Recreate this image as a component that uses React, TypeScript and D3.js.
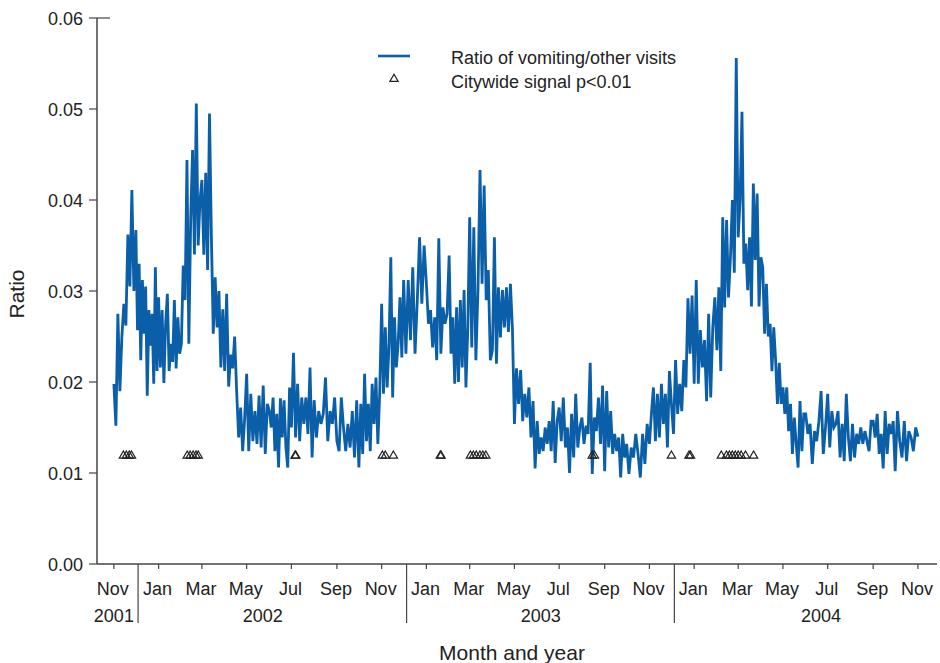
import { useEffect, useRef } from 'react';
import * as d3 from 'd3';

// Ratio of vomiting / other ED visits, every 3 days.
// One row per calendar month; the points of a row are spread evenly over that month.
const ratio2001 = [
  [0.0198, 0.0152, 0.0275, 0.0190, 0.0250, 0.0286, 0.0262, 0.0362, 0.0305, 0.0411, 0.0300], // Nov
  [0.0367, 0.0257, 0.0330, 0.0224, 0.0312, 0.0253, 0.0305, 0.0185, 0.0279, 0.0240, 0.0275, 0.0198, 0.0326, 0.0212], // Dec
];

const ratio2002 = [
  [0.0293, 0.0216, 0.0279, 0.0199, 0.0264, 0.0297, 0.0212, 0.0242, 0.0222, 0.0290, 0.0215, 0.0271, 0.0231], // Jan
  [0.0242, 0.0328, 0.0290, 0.0444, 0.0242, 0.0380, 0.0455, 0.0340, 0.0506, 0.0350, 0.0400], // Feb
  [0.0422, 0.0340, 0.0430, 0.0323, 0.0495, 0.0360, 0.0253, 0.0315, 0.0260, 0.0300, 0.0216, 0.0280], // Mar
  [0.0212, 0.0297, 0.0195, 0.0230, 0.0215, 0.0250, 0.0190, 0.0139, 0.0172, 0.0124, 0.0160], // Apr
  [0.0209, 0.0124, 0.0187, 0.0135, 0.0168, 0.0132, 0.0185, 0.0128, 0.0196, 0.0121, 0.0176], // May
  [0.0168, 0.0150, 0.0183, 0.0124, 0.0165, 0.0106, 0.0182, 0.0139, 0.0180, 0.0128, 0.0106, 0.0194], // Jun
  [0.0150, 0.0232, 0.0139, 0.0198, 0.0135, 0.0183, 0.0154, 0.0183, 0.0143, 0.0216, 0.0117], // Jul
  [0.0180, 0.0139, 0.0168, 0.0154, 0.0165, 0.0205, 0.0135, 0.0168, 0.0154, 0.0183], // Aug
  [0.0135, 0.0124, 0.0183, 0.0150, 0.0124, 0.0154, 0.0128, 0.0168, 0.0117, 0.0180], // Sep
  [0.0106, 0.0176, 0.0121, 0.0209, 0.0135, 0.0176, 0.0124, 0.0198, 0.0154, 0.0205, 0.0132, 0.0190], // Oct
  [0.0286, 0.0187, 0.0260, 0.0194, 0.0240, 0.0337, 0.0183, 0.0271, 0.0216, 0.0242, 0.0293, 0.0227], // Nov
  [0.0312, 0.0231, 0.0312, 0.0246, 0.0326, 0.0231, 0.0290, 0.0359, 0.0286, 0.0350], // Dec
];

const ratio2003 = [
  [0.0308, 0.0264, 0.0279, 0.0238, 0.0271, 0.0224, 0.0358, 0.0231, 0.0282, 0.0264, 0.0275], // Jan
  [0.0339, 0.0231, 0.0271, 0.0198, 0.0282, 0.0200, 0.0290, 0.0216, 0.0301, 0.0194, 0.0260], // Feb
  [0.0381, 0.0238, 0.0370, 0.0224, 0.0300, 0.0433, 0.0308, 0.0416, 0.0290, 0.0323, 0.0224], // Mar
  [0.0235, 0.0359, 0.0220, 0.0304, 0.0249, 0.0301, 0.0260, 0.0304, 0.0255, 0.0308, 0.0258], // Apr
  [0.0154, 0.0215, 0.0176, 0.0213, 0.0157, 0.0187, 0.0161, 0.0194, 0.0139, 0.0179, 0.0105], // May
  [0.0157, 0.0121, 0.0139, 0.0124, 0.0150, 0.0132, 0.0157, 0.0124, 0.0179, 0.0111, 0.0157], // Jun
  [0.0172, 0.0135, 0.0183, 0.0128, 0.0150, 0.0100, 0.0165, 0.0117, 0.0187, 0.0128, 0.0150], // Jul
  [0.0161, 0.0132, 0.0152, 0.0143, 0.0221, 0.0099, 0.0161, 0.0146, 0.0183, 0.0132, 0.0196], // Aug
  [0.0102, 0.0190, 0.0128, 0.0168, 0.0121, 0.0143, 0.0124, 0.0139, 0.0095, 0.0143, 0.0117], // Sep
  [0.0132, 0.0099, 0.0128, 0.0117, 0.0143, 0.0121, 0.0095, 0.0143, 0.0110, 0.0154], // Oct
  [0.0132, 0.0165, 0.0194, 0.0135, 0.0187, 0.0139, 0.0198, 0.0154, 0.0187, 0.0128, 0.0212], // Nov
  [0.0176, 0.0143, 0.0224, 0.0165, 0.0198, 0.0168, 0.0224, 0.0194, 0.0292, 0.0231, 0.0295], // Dec
];

const ratio2004 = [
  [0.0198, 0.0312, 0.0198, 0.0257, 0.0216, 0.0246, 0.0179, 0.0275, 0.0183, 0.0260, 0.0293], // Jan
  [0.0235, 0.0304, 0.0212, 0.0381, 0.0282, 0.0378, 0.0293, 0.0337, 0.0400, 0.0320, 0.0556], // Feb
  [0.0359, 0.0400, 0.0497, 0.0330, 0.0352, 0.0301, 0.0359, 0.0283, 0.0418, 0.0334, 0.0407, 0.0283], // Mar
  [0.0337, 0.0326, 0.0253, 0.0308, 0.0250, 0.0264, 0.0212, 0.0260, 0.0224, 0.0176, 0.0221, 0.0176], // Apr
  [0.0194, 0.0165, 0.0194, 0.0146, 0.0176, 0.0121, 0.0161, 0.0132, 0.0106, 0.0179, 0.0124, 0.0165], // May
  [0.0165, 0.0143, 0.0154, 0.0110, 0.0146, 0.0135, 0.0157, 0.0190, 0.0121, 0.0150], // Jun
  [0.0187, 0.0128, 0.0168, 0.0150, 0.0154, 0.0168, 0.0117, 0.0154, 0.0113, 0.0187, 0.0139], // Jul
  [0.0113, 0.0154, 0.0117, 0.0143, 0.0132, 0.0150, 0.0132, 0.0146, 0.0135, 0.0124, 0.0157], // Aug
  [0.0157, 0.0139, 0.0165, 0.0121, 0.0143, 0.0105, 0.0168, 0.0121, 0.0154, 0.0143, 0.0157], // Sep
  [0.0102, 0.0168, 0.0135, 0.0117, 0.0157, 0.0113, 0.0146, 0.0139, 0.0124, 0.0150], // Oct
];
const ratioLast = 0.0140; // Nov 1 2004

// Days with a citywide signal (p<0.01)
const signalDates = [
  '2001-11-14', '2001-11-18', '2001-11-22', '2001-11-25',
  '2002-02-09', '2002-02-13', '2002-02-17', '2002-02-21', '2002-02-24',
  '2002-07-06', '2002-07-07',
  '2002-11-02', '2002-11-06', '2002-11-17',
  '2003-01-20', '2003-01-21',
  '2003-03-02', '2003-03-06', '2003-03-10', '2003-03-15', '2003-03-19', '2003-03-23',
  '2003-08-15', '2003-08-18',
  '2003-12-01', '2003-12-25', '2003-12-27',
  '2004-02-07', '2004-02-14', '2004-02-18', '2004-02-22', '2004-02-26',
  '2004-03-01', '2004-03-05', '2004-03-11', '2004-03-22',
];
const signalLevel = 0.012;

const monthTicks = [
  '2001-11-01', '2002-01-01', '2002-03-01', '2002-05-01', '2002-07-01', '2002-09-01', '2002-11-01',
  '2003-01-01', '2003-03-01', '2003-05-01', '2003-07-01', '2003-09-01', '2003-11-01',
  '2004-01-01', '2004-03-01', '2004-05-01', '2004-07-01', '2004-09-01', '2004-11-01',
];
const yearLabels = ['2001', '2002', '2003', '2004'];
const yearLabelDates = ['2001-11-01', '2002-05-23', '2003-06-06', '2004-06-22'];
const yearBreaks = ['2001-12-04', '2002-12-05', '2003-12-05'];
const yTicks = [0, 0.01, 0.02, 0.03, 0.04, 0.05, 0.06];

const FONT = '"Liberation Sans", Arial, Helvetica, sans-serif';
const BLUE = '#0a5fa8';
const INK = '#222';

export default function App() {
  const svgRef = useRef<SVGSVGElement | null>(null);

  useEffect(() => {
    if (!svgRef.current) return;
    const svg = d3.select(svgRef.current);
    svg.selectAll('*').remove();

    const parse = d3.timeParse('%Y-%m-%d');

    // Flatten the monthly rows into dated points
    type Point = { date: Date; value: number };
    const points: Point[] = [];
    const seasons: [number, number, number[][]][] = [
      [2001, 10, ratio2001],
      [2002, 0, ratio2002],
      [2003, 0, ratio2003],
      [2004, 0, ratio2004],
    ];
    seasons.forEach(([year, firstMonth, rows]) => {
      rows.forEach((row, k) => {
        const start = new Date(year, firstMonth + k, 1).getTime();
        const end = new Date(year, firstMonth + k + 1, 1).getTime();
        const step = (end - start) / row.length;
        row.forEach((v, i) => points.push({ date: new Date(start + i * step), value: v }));
      });
    });
    points.push({ date: new Date(2004, 10, 1), value: ratioLast });

    const left = 97;
    const right = 937;
    const top = 18;
    const bottom = 564;

    const x = d3.scaleTime()
      .domain([new Date(2001, 9, 9), new Date(2004, 10, 27)])
      .range([left, right]);
    const y = d3.scaleLinear().domain([0, 0.06]).range([bottom, top]);

    // Y axis
    const yAxis = svg.append('g');
    yAxis.append('line')
      .attr('x1', left).attr('x2', left)
      .attr('y1', top).attr('y2', bottom)
      .attr('stroke', '#444').attr('stroke-width', 1.5);
    yAxis.selectAll('.ytick')
      .data(yTicks)
      .enter()
      .append('line')
      .attr('x1', left - 8).attr('x2', left)
      .attr('y1', d => y(d)).attr('y2', d => y(d))
      .attr('stroke', '#444').attr('stroke-width', 1.2);
    yAxis.append('line')
      .attr('x1', left).attr('x2', left + 13)
      .attr('y1', y(0.06)).attr('y2', y(0.06))
      .attr('stroke', '#444').attr('stroke-width', 1.2);
    yAxis.selectAll('.ylabel')
      .data(yTicks)
      .enter()
      .append('text')
      .attr('x', 83)
      .attr('y', d => y(d) + 6.5)
      .attr('text-anchor', 'end')
      .attr('font-family', FONT)
      .attr('font-size', 18)
      .attr('fill', INK)
      .text(d => d.toFixed(2));

    // X axis
    const xAxis = svg.append('g');
    xAxis.append('line')
      .attr('x1', left).attr('x2', right)
      .attr('y1', bottom).attr('y2', bottom)
      .attr('stroke', '#444').attr('stroke-width', 1.5);
    const tickDates = monthTicks.map(d => parse(d) as Date);
    xAxis.selectAll('.xtick')
      .data(tickDates)
      .enter()
      .append('line')
      .attr('x1', d => x(d)).attr('x2', d => x(d))
      .attr('y1', bottom).attr('y2', bottom + 5)
      .attr('stroke', '#444').attr('stroke-width', 1.2);
    xAxis.selectAll('.xlabel')
      .data(tickDates)
      .enter()
      .append('text')
      .attr('x', d => x(d) - 1)
      .attr('y', 595)
      .attr('text-anchor', 'middle')
      .attr('font-family', FONT)
      .attr('font-size', 18)
      .attr('fill', INK)
      .text(d => d3.timeFormat('%b')(d));
    xAxis.selectAll('.ybreak')
      .data(yearBreaks.map(d => parse(d) as Date))
      .enter()
      .append('line')
      .attr('x1', d => x(d)).attr('x2', d => x(d))
      .attr('y1', bottom).attr('y2', 623)
      .attr('stroke', '#444').attr('stroke-width', 1.2);
    xAxis.selectAll('.yearlabel')
      .data(yearLabels)
      .enter()
      .append('text')
      .attr('x', (d, i) => x(parse(yearLabelDates[i]) as Date))
      .attr('y', 622)
      .attr('text-anchor', 'middle')
      .attr('font-family', FONT)
      .attr('font-size', 18)
      .attr('fill', INK)
      .text(d => d);

    // Axis titles
    svg.append('text')
      .attr('x', 512)
      .attr('y', 660)
      .attr('text-anchor', 'middle')
      .attr('font-family', FONT)
      .attr('font-size', 21)
      .attr('fill', INK)
      .text('Month and year');
    svg.append('text')
      .attr('transform', 'translate(24,294) rotate(-90)')
      .attr('text-anchor', 'middle')
      .attr('font-family', FONT)
      .attr('font-size', 21)
      .attr('fill', INK)
      .text('Ratio');

    // Series line
    const line = d3.line<Point>()
      .x(d => x(d.date))
      .y(d => y(d.value));
    svg.append('path')
      .datum(points)
      .attr('fill', 'none')
      .attr('stroke', BLUE)
      .attr('stroke-width', 2.8)
      .attr('stroke-linejoin', 'miter')
      .attr('d', line);

    // Signal triangles
    const tri = d3.symbol(d3.symbolTriangle, 30);
    svg.selectAll('.signal')
      .data(signalDates.map(d => parse(d) as Date))
      .enter()
      .append('path')
      .attr('d', tri)
      .attr('transform', d => `translate(${x(d)},${y(signalLevel) + 1})`)
      .attr('fill', 'none')
      .attr('stroke', INK)
      .attr('stroke-width', 1.2);

    // Legend
    const legend = svg.append('g');
    legend.append('line')
      .attr('x1', 378).attr('x2', 410)
      .attr('y1', 56).attr('y2', 56)
      .attr('stroke', BLUE).attr('stroke-width', 2.6);
    legend.append('path')
      .attr('d', tri)
      .attr('transform', 'translate(394,79)')
      .attr('fill', 'none')
      .attr('stroke', INK)
      .attr('stroke-width', 1.2);
    legend.append('text')
      .attr('x', 451).attr('y', 64)
      .attr('font-family', FONT).attr('font-size', 18).attr('fill', INK)
      .text('Ratio of vomiting/other visits');
    legend.append('text')
      .attr('x', 451).attr('y', 88)
      .attr('font-family', FONT).attr('font-size', 18).attr('fill', INK)
      .text('Citywide signal p<0.01');
  }, []);

  return (
    <svg
      ref={svgRef}
      width={940}
      height={663}
      style={{ position: 'absolute', left: 0, top: 0, background: 'white' }}
    />
  );
}
